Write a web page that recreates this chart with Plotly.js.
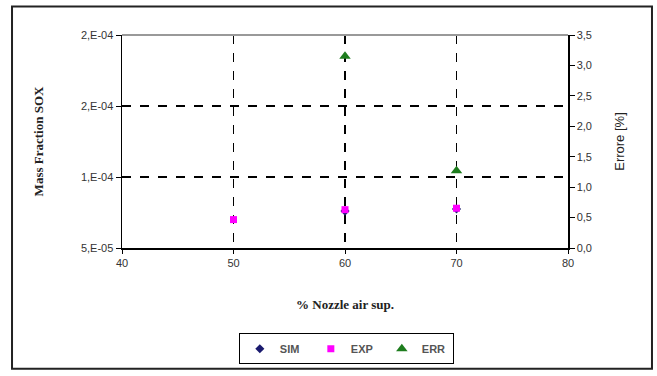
<!DOCTYPE html>
<html>
<head>
<meta charset="utf-8">
<script src="https://cdn.plot.ly/plotly-3.0.1.min.js"></script>
<style>
html,body{margin:0;padding:0;background:#fff;}
#chart{width:657px;height:376px;}
</style>
</head>
<body>
<div id="chart"></div>
<script>
// Data
var nozzleAir = [50, 60, 70];          // % Nozzle air sup.
var simX = [60, 70];
var simValues = [7.6e-5, 7.75e-5];     // Mass Fraction SOX (simulated)
var expValues = [7.0e-5, 7.7e-5, 7.8e-5]; // Mass Fraction SOX (experimental)
var errX = [60, 70];
var errValues = [3.15, 1.27];          // Errore [%]

var leftTickVals = [5e-5, 1e-4, 1.5e-4, 2e-4];
var leftTickText = ["5,E-05", "1,E-04", "2,E-04", "2,E-04"];

var tickFont = {family: "Arial, 'Liberation Sans', sans-serif", size: 11, color: "#333"};
var serifBold = {family: "'Times New Roman', 'Liberation Serif', serif", size: 13, color: "#222", weight: "bold"};

var traces = [
  {x: simX, y: simValues, name: "SIM", type: "scatter", mode: "markers",
   marker: {symbol: "diamond", size: 7, color: "#1a1a6e"}},
  {x: nozzleAir, y: expValues, name: "EXP", type: "scatter", mode: "markers",
   marker: {symbol: "square", size: 7, color: "#ff00ff"}},
  {x: errX, y: errValues, name: "ERR", type: "scatter", mode: "markers", yaxis: "y2",
   marker: {symbol: "triangle-up", size: 10, color: "#1e7d1e"}}
];

var layout = {
  width: 657, height: 376,
  margin: {l: 122, r: 89, t: 35, b: 124},
  paper_bgcolor: "#fff", plot_bgcolor: "#fff",
  separators: ",.",
  showlegend: true,
  xaxis: {
    range: [40, 80], tickvals: [40, 50, 60, 70, 80], ticktext: ["40","50","60","70","80"],
    showline: true, linecolor: "#000", linewidth: 1.5,
    ticks: "outside", ticklen: 4, tickcolor: "#000",
    showgrid: true, gridcolor: "#000", griddash: "dash", gridwidth: 1.5,
    zeroline: false, tickfont: tickFont,
    title: {text: "% Nozzle air sup.", font: serifBold, standoff: 32}
  },
  yaxis: {
    range: [5e-5, 2e-4], tickvals: leftTickVals, ticktext: leftTickText,
    showline: true, linecolor: "#000", linewidth: 1.5,
    ticks: "outside", ticklen: 5, tickcolor: "#000",
    showgrid: true, gridcolor: "#000", griddash: "dash", gridwidth: 1.5,
    zeroline: false, tickfont: tickFont,
    title: {text: "Mass Fraction SOX", font: serifBold, standoff: 34}
  },
  yaxis2: {
    overlaying: "y", side: "right", range: [0, 3.5], dtick: 0.5, tickformat: ".1f",
    showline: true, linecolor: "#000", linewidth: 1.5,
    ticks: "outside", ticklen: 5, tickcolor: "#000",
    showgrid: false, zeroline: false, tickfont: tickFont,
    title: {text: "Errore [%]", font: {family: "Arial, 'Liberation Sans', sans-serif", size: 13, color: "#222"}, standoff: 24}
  },
  legend: {
    orientation: "h", x: 0.503, xanchor: "center", y: -0.40, yanchor: "top",
    bordercolor: "#000", borderwidth: 1, bgcolor: "#fff",
    font: {family: "Arial, 'Liberation Sans', sans-serif", size: 11, color: "#555", weight: "bold"},
    itemwidth: 30, entrywidth: 26, entrywidthmode: "pixels", tracegroupgap: 0
  },
  shapes: [
    {type: "line", xref: "paper", yref: "paper", x0: 0, x1: 1, y0: 1, y1: 1,
     line: {color: "#999", width: 2}},
    {type: "rect", xref: "paper", yref: "paper", x0: -0.2466, x1: 1.1883, y0: -0.567, y1: 1.1336,
     line: {color: "#222", width: 2}, layer: "below"}
  ]
};

Plotly.newPlot("chart", traces, layout, {displayModeBar: false, staticPlot: true});
</script>
</body>
</html>
